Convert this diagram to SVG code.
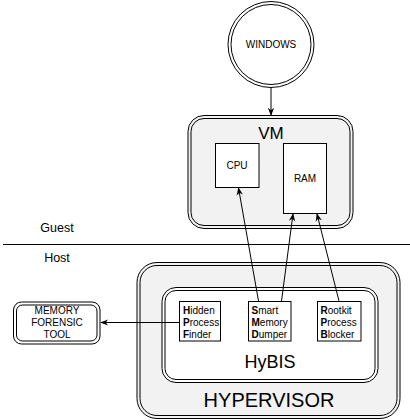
<svg xmlns="http://www.w3.org/2000/svg" width="410" height="420" viewBox="0 0 410 420">
<style>
text{font-family:"Liberation Sans",Arial,sans-serif;fill:#000}
.ln{stroke:#000;stroke-width:1;fill:none}
.box{fill:#fff;stroke:#000;stroke-width:1}
.g{fill:#f2f2f2;stroke:#000;stroke-width:1}
.in{fill:none;stroke:#000;stroke-width:1}
.s10{font-size:10px}
.mid{text-anchor:middle}
</style>
<defs>
<marker id="arr" viewBox="0 0 10 10" refX="9" refY="5" markerWidth="8" markerHeight="8" orient="auto" markerUnits="userSpaceOnUse">
<path d="M0,1 L10,5 L0,9 L3,5 Z" fill="#000"/>
</marker>
</defs>
<g id="windows">
<circle cx="271" cy="44.5" r="43" fill="#fff" stroke="#000"/>
<circle cx="271" cy="44.5" r="40" class="in"/>
<text x="271" y="48" class="mid s10">WINDOWS</text>
</g>
<g id="vm">
<rect x="188" y="115.5" width="165" height="113" rx="16" class="g"/>
<rect x="191" y="118.5" width="159" height="107" rx="13" class="in"/>
<text x="271" y="139" class="mid" font-size="17">VM</text>
</g>
<g id="cpu">
<rect x="215.5" y="143.5" width="43.5" height="44" class="box"/>
<text x="237" y="169" class="mid s10">CPU</text>
</g>
<g id="ram">
<rect x="283.5" y="143.5" width="43" height="70" class="box"/>
<text x="305" y="182" class="mid s10">RAM</text>
</g>
<g id="divider">
<line x1="3" y1="244.5" x2="410" y2="244.5" class="ln"/>
<text x="57" y="231.5" class="mid" font-size="12.5">Guest</text>
<text x="57" y="262" class="mid" font-size="12.5">Host</text>
</g>
<g id="hypervisor">
<rect x="137" y="262.5" width="263" height="156" rx="20" class="g"/>
<rect x="140" y="265.5" width="257" height="150" rx="17" class="in"/>
<text x="269" y="407" class="mid" font-size="20">HYPERVISOR</text>
</g>
<g id="hybis">
<rect x="162" y="287.5" width="216" height="95" rx="14" fill="#fff" stroke="#000"/>
<rect x="165" y="290.5" width="210" height="89" rx="11" class="in"/>
<text x="270" y="368" class="mid" font-size="18">HyBIS</text>
</g>
<g id="hpf">
<rect x="179.5" y="301.5" width="41" height="39.5" class="box"/>
<text x="183" y="314" class="s10"><tspan font-weight="bold">H</tspan>idden</text>
<text x="183" y="326" class="s10"><tspan font-weight="bold">P</tspan>rocess</text>
<text x="183" y="337.5" class="s10"><tspan font-weight="bold">F</tspan>inder</text>
</g>
<g id="smd">
<rect x="248.5" y="301.5" width="42.5" height="39.5" class="box"/>
<text x="251.5" y="314" class="s10"><tspan font-weight="bold">S</tspan>mart</text>
<text x="251.5" y="326" class="s10"><tspan font-weight="bold">M</tspan>emory</text>
<text x="251.5" y="337.5" class="s10"><tspan font-weight="bold">D</tspan>umper</text>
</g>
<g id="rpb">
<rect x="317.5" y="301.5" width="43.5" height="39.5" class="box"/>
<text x="320.5" y="314" class="s10"><tspan font-weight="bold">R</tspan>ootkit</text>
<text x="320.5" y="326" class="s10"><tspan font-weight="bold">P</tspan>rocess</text>
<text x="320.5" y="337.5" class="s10"><tspan font-weight="bold">B</tspan>locker</text>
</g>
<g id="mft">
<rect x="13.5" y="302" width="86.5" height="42" rx="8" fill="#fff" stroke="#000"/>
<rect x="16.5" y="305" width="80.5" height="36" rx="6" class="in"/>
<text x="57" y="313.5" class="mid s10">MEMORY</text>
<text x="57" y="325.5" class="mid s10">FORENSIC</text>
<text x="57" y="337.5" class="mid s10">TOOL</text>
</g>
<g id="connectors">
<line x1="271" y1="88" x2="271" y2="115" class="ln" marker-end="url(#arr)"/>
<line x1="258.5" y1="301" x2="238.5" y2="188" class="ln" marker-end="url(#arr)"/>
<line x1="281.5" y1="301" x2="293" y2="214" class="ln" marker-end="url(#arr)"/>
<line x1="339" y1="301" x2="317" y2="214" class="ln" marker-end="url(#arr)"/>
<line x1="179" y1="322.5" x2="101" y2="322.5" class="ln" marker-end="url(#arr)"/>
</g>
</svg>
